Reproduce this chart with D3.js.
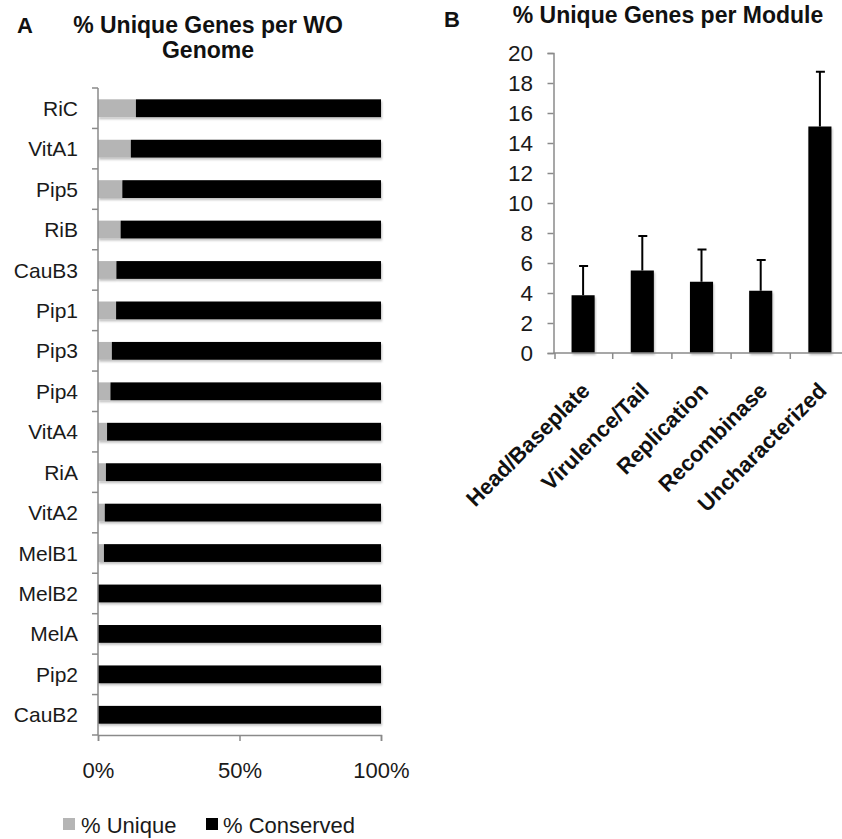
<!DOCTYPE html>
<html><head><meta charset="utf-8">
<script src="https://cdn.jsdelivr.net/npm/d3@7"></script>
<style>
body{margin:0;background:#fff;}
svg{font-family:"Liberation Sans",Arial,sans-serif;}
</style></head>
<body>
<svg id="c" width="842" height="839"></svg>
<script>
// Panel A data
const genomes = ["RiC","VitA1","Pip5","RiB","CauB3","Pip1","Pip3","Pip4","VitA4","RiA","VitA2","MelB1","MelB2","MelA","Pip2","CauB2"];
const uniquePct = [13.4,11.6,8.6,8.0,6.5,6.4,4.9,4.4,3.2,2.8,2.4,2.1,0,0,0,0];
const conservedPct = uniquePct.map(u => 100 - u);
const xTicksA = [0,50,100];
const seriesNames = ["% Unique","% Conserved"];
const seriesColors = ["#b5b5b5","#000000"];

// Panel B data
const modules = ["Head/Baseplate","Virulence/Tail","Replication","Recombinase","Uncharacterized"];
const moduleMeans = [3.85,5.5,4.75,4.15,15.1];
const moduleErrTop = [5.8,7.8,6.9,6.2,18.75];
const yTicksB = [0,2,4,6,8,10,12,14,16,18,20];

const svg = d3.select("#c");
const defs = svg.append("defs");
const f = defs.append("filter").attr("id","sh").attr("x","-5%").attr("y","-20%").attr("width","115%").attr("height","160%");
f.append("feDropShadow").attr("dx",1).attr("dy",2).attr("stdDeviation",1.2).attr("flood-color","#000").attr("flood-opacity",0.25);

const axisCol = "#8a8a8a";
const txtCol = "#1a1a1a";

// ---------- Panel A ----------
const xA = d3.scaleLinear().domain([0,100]).range([98,381]);
const yA = d3.scaleBand().domain(genomes).range([88,735]).paddingInner(0.56).paddingOuter(0.28);
const gA = svg.append("g");

// bars
const rows = gA.selectAll("g.row").data(genomes).join("g").attr("class","row").attr("filter","url(#sh)");
rows.append("rect").attr("x",xA(0)).attr("y",d=>yA(d)).attr("height",yA.bandwidth())
  .attr("width",(d,i)=>xA(uniquePct[i])-xA(0)).attr("fill",seriesColors[0]);
rows.append("rect").attr("x",(d,i)=>xA(uniquePct[i])).attr("y",d=>yA(d)).attr("height",yA.bandwidth())
  .attr("width",(d,i)=>xA(100)-xA(uniquePct[i])).attr("fill",seriesColors[1]);

// y axis line & ticks at band boundaries
gA.append("line").attr("x1",98).attr("x2",98).attr("y1",88).attr("y2",735).attr("stroke",axisCol).attr("stroke-width",1.5);
const bounds = d3.range(genomes.length+1).map(i=>88+i*(735-88)/genomes.length);
gA.selectAll("line.yt").data(bounds).join("line").attr("x1",92).attr("x2",98).attr("y1",d=>d).attr("y2",d=>d).attr("stroke",axisCol).attr("stroke-width",1.5);
gA.selectAll("text.yl").data(genomes).join("text").attr("x",78).attr("y",d=>yA(d)+yA.bandwidth()/2)
  .attr("dy","0.36em").attr("text-anchor","end").attr("font-size",21).attr("fill",txtCol).text(d=>d);

// x axis
const axA = d3.axisBottom(xA).tickValues(xTicksA).tickSize(6).tickFormat(d=>d+"%");
const gax = gA.append("g").attr("transform","translate(0,735)").call(axA);
gax.select(".domain").attr("stroke",axisCol).attr("stroke-width",1.5);
gax.selectAll(".tick line").attr("stroke",axisCol).attr("stroke-width",1.5);
gax.selectAll(".tick text").attr("font-size",22).attr("fill",txtCol).attr("y",43).attr("dy",0).attr("font-family","Liberation Sans, Arial, sans-serif");

// titles
svg.append("text").attr("x",17).attr("y",33).attr("font-size",22).attr("font-weight","bold").attr("fill","#111").text("A");
svg.append("text").attr("x",208).attr("y",33).attr("text-anchor","middle").attr("font-size",23).attr("font-weight","bold").attr("fill","#111").text("% Unique Genes per WO");
svg.append("text").attr("x",208).attr("y",58).attr("text-anchor","middle").attr("font-size",23).attr("font-weight","bold").attr("fill","#111").text("Genome");

// legend
const lgX = [63,206];
const lg = svg.selectAll("g.lg").data(seriesNames).join("g").attr("class","lg").attr("transform",(d,i)=>`translate(${lgX[i]},818)`);
lg.append("rect").attr("width",12).attr("height",12).attr("fill",(d,i)=>seriesColors[i]);
lg.append("text").attr("x",(d,i)=>i===0?18:17).attr("y",15).attr("font-size",22).attr("fill",txtCol).text(d=>d);

// ---------- Panel B ----------
const yB = d3.scaleLinear().domain([0,20]).range([353,53]);
const xB = d3.scaleBand().domain(modules).range([553.5,849.5]).paddingInner(0.61).paddingOuter(0.305);
const gB = svg.append("g");

gB.selectAll("rect.b").data(modules).join("rect").attr("class","b").attr("filter","url(#sh)")
  .attr("x",d=>xB(d)).attr("width",xB.bandwidth()).attr("y",(d,i)=>yB(moduleMeans[i])).attr("height",(d,i)=>yB(0)-yB(moduleMeans[i])).attr("fill","#000");

// error bars
const eb = gB.selectAll("g.eb").data(modules).join("g").attr("class","eb");
eb.append("line").attr("x1",d=>xB(d)+xB.bandwidth()/2).attr("x2",d=>xB(d)+xB.bandwidth()/2)
  .attr("y1",(d,i)=>yB(moduleMeans[i])).attr("y2",(d,i)=>yB(moduleErrTop[i])).attr("stroke","#000").attr("stroke-width",2);
eb.append("line").attr("x1",d=>xB(d)+xB.bandwidth()/2-4).attr("x2",d=>xB(d)+xB.bandwidth()/2+5)
  .attr("y1",(d,i)=>yB(moduleErrTop[i])).attr("y2",(d,i)=>yB(moduleErrTop[i])).attr("stroke","#000").attr("stroke-width",2);

// y axis
const ayB = d3.axisLeft(yB).tickValues(yTicksB).tickSize(6);
const gy = gB.append("g").attr("transform","translate(553.5,0)").call(ayB);
gy.select(".domain").attr("stroke",axisCol).attr("stroke-width",1.5);
gy.selectAll(".tick line").attr("stroke",axisCol).attr("stroke-width",1.5);
gy.selectAll(".tick text").attr("font-size",22.5).attr("fill",txtCol).attr("x",-20.5).attr("font-family","Liberation Sans, Arial, sans-serif");

// x axis line and ticks at band boundaries
gB.append("line").attr("x1",553.5).attr("x2",842).attr("y1",353).attr("y2",353).attr("stroke",axisCol).attr("stroke-width",1.5);
const bB = d3.range(modules.length).map(i=>553.5+i*xB.step()+ (i===0?1.5:0));
gB.selectAll("line.xt").data(bB).join("line").attr("x1",d=>d).attr("x2",d=>d).attr("y1",353).attr("y2",359).attr("stroke",axisCol).attr("stroke-width",1.5);

gB.selectAll("text.xl").data(modules).join("text")
  .attr("transform",d=>`translate(${xB(d)+xB.bandwidth()/2+8},392) rotate(-45)`)
  .attr("text-anchor","end").attr("font-size",22).attr("font-weight","bold").attr("fill","#111").text(d=>d);

svg.append("text").attr("x",444).attr("y",27).attr("font-size",22).attr("font-weight","bold").attr("fill","#111").text("B");
svg.append("text").attr("x",668).attr("y",23).attr("text-anchor","middle").attr("font-size",23).attr("font-weight","bold").attr("fill","#111").text("% Unique Genes per Module");
</script>
</body></html>
